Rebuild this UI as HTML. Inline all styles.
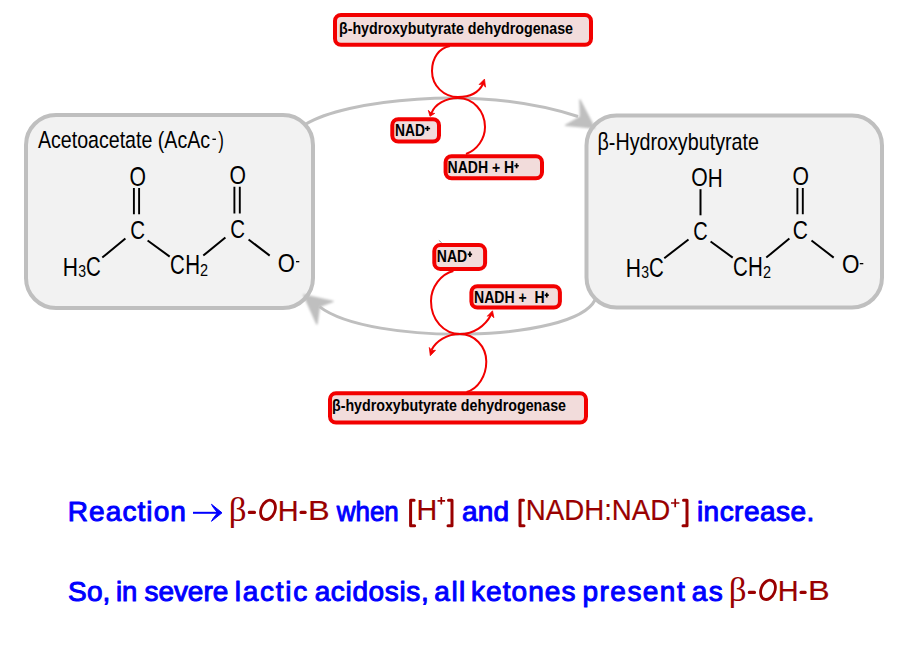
<!DOCTYPE html>
<html><head><meta charset="utf-8"><style>
html,body{margin:0;padding:0;background:#fff;width:908px;height:646px;overflow:hidden}
svg{display:block}
</style></head><body>
<svg width="908" height="646" viewBox="0 0 908 646">
<path d="M306,124 C342.8,100.9 475.2,83.3 578,116.5" fill="none" stroke="#bfbfbf" stroke-width="3"/>
<path d="M595,300 C573.5,342.7 370,345.8 319.4,306.6" fill="none" stroke="#bfbfbf" stroke-width="3"/>
<rect x="26" y="115" width="287" height="193" rx="30" fill="#f2f2f2" stroke="#bfbfbf" stroke-width="4"/>
<rect x="586.5" y="115.5" width="295.5" height="192" rx="30" fill="#f2f2f2" stroke="#bfbfbf" stroke-width="4"/>
<defs><filter id="bl" x="-20%" y="-20%" width="140%" height="140%"><feGaussianBlur stdDeviation="0.8"/></filter></defs>
<path d="M594.5,128 L580,100 L580.5,117 L565.6,125.3 Z" fill="#bfbfbf" stroke="#bfbfbf" stroke-width="1.5" stroke-linejoin="round" filter="url(#bl)"/>
<path d="M303.8,295 L333,301.4 L319.4,306.6 L316.9,324 Z" fill="#bfbfbf" stroke="#bfbfbf" stroke-width="1.5" stroke-linejoin="round" filter="url(#bl)"/>
<path d="M450,46 C439,48 432,58 432,71 C432,86 444,97 458,97 C470,97 479,92 483,84" fill="none" stroke="#f20000" stroke-width="2"/>
<path d="M484.5,79.1 L479.1,84.5 L483,84 L485.5,87.2 Z" fill="#f20000" stroke="#f20000" stroke-width="0.8" stroke-linejoin="round"/>
<path d="M466,154 C477,150 485,139 485,127 C485,111 473,98 458,98 C446,98 435,104 431.5,113" fill="none" stroke="#f20000" stroke-width="2"/>
<path d="M430,116.3 L428.3,110.3 L431.2,113 L434.7,113.4 Z" fill="#f20000" stroke="#f20000" stroke-width="0.8" stroke-linejoin="round"/>
<path d="M453.4,271 C441,274 431,287 431,301 C431,320 444,334 460,334 C474,334 485,326 491,315" fill="none" stroke="#f20000" stroke-width="2"/>
<path d="M492.5,310.8 L487.3,316.2 L491.3,315.3 L493.9,317.7 Z" fill="#f20000" stroke="#f20000" stroke-width="0.8" stroke-linejoin="round"/>
<path d="M466.6,392 C478,389 486.3,376 486.3,361.6 C486.3,346 474,334 460,334 C447,334 436,341 431.5,350" fill="none" stroke="#f20000" stroke-width="2"/>
<path d="M430.3,355.7 L429.3,347.5 L431.5,350.5 L435.5,350.3 Z" fill="#f20000" stroke="#f20000" stroke-width="0.8" stroke-linejoin="round"/>
<path d="M438.9,240.4 L441.6,242.7" stroke="#888" stroke-width="1"/>
<rect x="335" y="15" width="256" height="29.799999999999997" rx="6" fill="#f2dcdb" stroke="#f20000" stroke-width="4"/>
<rect x="392.3" y="119.2" width="46.69999999999999" height="22.39999999999999" rx="6" fill="#f2dcdb" stroke="#f20000" stroke-width="4"/>
<rect x="445.6" y="156.2" width="96.39999999999998" height="22.100000000000023" rx="6" fill="#f2dcdb" stroke="#f20000" stroke-width="4"/>
<rect x="434.3" y="245.1" width="50.80000000000001" height="23.799999999999983" rx="6" fill="#f2dcdb" stroke="#f20000" stroke-width="4"/>
<rect x="471.4" y="286.2" width="88.5" height="21.30000000000001" rx="6" fill="#f2dcdb" stroke="#f20000" stroke-width="4"/>
<rect x="330" y="393.3" width="256" height="29.19999999999999" rx="6" fill="#f2dcdb" stroke="#f20000" stroke-width="4"/>
<text x="339.00" y="33.60" font-family="&quot;Liberation Sans&quot;, sans-serif" font-size="16.00" font-weight="bold" fill="#000" textLength="234.04" lengthAdjust="spacingAndGlyphs">β-hydroxybutyrate dehydrogenase</text>
<text x="332.00" y="410.70" font-family="&quot;Liberation Sans&quot;, sans-serif" font-size="16.00" font-weight="bold" fill="#000" textLength="234.04" lengthAdjust="spacingAndGlyphs">β-hydroxybutyrate dehydrogenase</text>
<text x="395.00" y="135.80" font-family="&quot;Liberation Sans&quot;, sans-serif" font-size="16.81" font-weight="bold" fill="#000" textLength="29.87" lengthAdjust="spacingAndGlyphs">NAD</text>
<path d="M424.9,128.5 H430.1 M427.5,126.1 V130.9" fill="none" stroke="#000" stroke-width="1.7"/>
<text x="447.59" y="172.80" font-family="&quot;Liberation Sans&quot;, sans-serif" font-size="16.96" font-weight="bold" fill="#000" textLength="66.63" lengthAdjust="spacingAndGlyphs">NADH + H</text>
<path d="M514.4,165.75 H518.8000000000001 M516.6,163.25 V168.25" fill="none" stroke="#000" stroke-width="1.7"/>
<text x="436.79" y="262.00" font-family="&quot;Liberation Sans&quot;, sans-serif" font-size="17.39" font-weight="bold" fill="#000" textLength="30.39" lengthAdjust="spacingAndGlyphs">NAD</text>
<path d="M467.7,254.3 H472.09999999999997 M469.9,251.60000000000002 V257.0" fill="none" stroke="#000" stroke-width="1.7"/>
<text x="473.99" y="302.60" font-family="&quot;Liberation Sans&quot;, sans-serif" font-size="16.81" font-weight="bold" fill="#000" textLength="70.67" lengthAdjust="spacingAndGlyphs">NADH +  H</text>
<path d="M544.75,295.15 H548.75 M546.75,292.7 V297.59999999999997" fill="none" stroke="#000" stroke-width="1.7"/>
<text x="38.00" y="147.70" font-family="&quot;Liberation Sans&quot;, sans-serif" font-size="24.30" font-weight="normal" fill="#000" textLength="172.04" lengthAdjust="spacingAndGlyphs">Acetoacetate (AcAc</text>
<rect x="212.4" y="138.6" width="3.5" height="1.4" fill="#000"/>
<text x="218.23" y="147.80" font-family="&quot;Liberation Sans&quot;, sans-serif" font-size="23.32" font-weight="normal" fill="#000" textLength="5.64" lengthAdjust="spacingAndGlyphs">)</text>
<text x="597.52" y="149.80" font-family="&quot;Liberation Sans&quot;, sans-serif" font-size="23.20" font-weight="normal" fill="#000" textLength="161.45" lengthAdjust="spacingAndGlyphs">β-Hydroxybutyrate</text>
<text x="129.45" y="185.53" font-family="&quot;Liberation Sans&quot;, sans-serif" font-size="26.76" font-weight="normal" fill="#000" textLength="16.46" lengthAdjust="spacingAndGlyphs">O</text>
<path d="M133.9,188 V214.3 M139.1,188 V214.3" stroke="#000" stroke-width="1.9"/>
<text x="130.18" y="239.34" font-family="&quot;Liberation Sans&quot;, sans-serif" font-size="26.34" font-weight="normal" fill="#000" textLength="14.79" lengthAdjust="spacingAndGlyphs">C</text>
<path d="M125.4,238.5 L102.3,257.6 M147.6,240.5 L169.7,256.6" stroke="#000" stroke-width="2"/>
<text x="62.71" y="275.60" font-family="&quot;Liberation Sans&quot;, sans-serif" font-size="26.67" font-weight="normal" fill="#000" textLength="15.22" lengthAdjust="spacingAndGlyphs">H</text>
<text x="78.14" y="277.34" font-family="&quot;Liberation Sans&quot;, sans-serif" font-size="16.20" font-weight="normal" fill="#000" textLength="7.81" lengthAdjust="spacingAndGlyphs">3</text>
<text x="85.98" y="275.93" font-family="&quot;Liberation Sans&quot;, sans-serif" font-size="27.18" font-weight="normal" fill="#000" textLength="14.79" lengthAdjust="spacingAndGlyphs">C</text>
<text x="170.08" y="273.73" font-family="&quot;Liberation Sans&quot;, sans-serif" font-size="27.18" font-weight="normal" fill="#000" textLength="14.79" lengthAdjust="spacingAndGlyphs">C</text>
<text x="185.16" y="273.70" font-family="&quot;Liberation Sans&quot;, sans-serif" font-size="26.81" font-weight="normal" fill="#000" textLength="14.83" lengthAdjust="spacingAndGlyphs">H</text>
<text x="200.07" y="275.60" font-family="&quot;Liberation Sans&quot;, sans-serif" font-size="16.57" font-weight="normal" fill="#000" textLength="8.07" lengthAdjust="spacingAndGlyphs">2</text>
<text x="229.45" y="184.34" font-family="&quot;Liberation Sans&quot;, sans-serif" font-size="26.34" font-weight="normal" fill="#000" textLength="16.46" lengthAdjust="spacingAndGlyphs">O</text>
<path d="M234.4,186.7 V213.4 M239.8,186.7 V213.4" stroke="#000" stroke-width="1.9"/>
<text x="230.18" y="238.04" font-family="&quot;Liberation Sans&quot;, sans-serif" font-size="25.92" font-weight="normal" fill="#000" textLength="14.79" lengthAdjust="spacingAndGlyphs">C</text>
<path d="M225.4,237.5 L203.3,255.6 M248.6,239.5 L269.7,255.6" stroke="#000" stroke-width="2"/>
<text x="277.81" y="272.45" font-family="&quot;Liberation Sans&quot;, sans-serif" font-size="25.49" font-weight="normal" fill="#000" textLength="17.15" lengthAdjust="spacingAndGlyphs">O</text>
<rect x="296" y="261" width="3.3" height="1.3" fill="#000"/>
<text x="691.35" y="186.34" font-family="&quot;Liberation Sans&quot;, sans-serif" font-size="26.34" font-weight="normal" fill="#000" textLength="16.46" lengthAdjust="spacingAndGlyphs">O</text>
<text x="707.74" y="186.60" font-family="&quot;Liberation Sans&quot;, sans-serif" font-size="26.67" font-weight="normal" fill="#000" textLength="14.96" lengthAdjust="spacingAndGlyphs">H</text>
<path d="M700.5,189.2 V215.3" stroke="#000" stroke-width="2"/>
<text x="693.20" y="240.44" font-family="&quot;Liberation Sans&quot;, sans-serif" font-size="26.34" font-weight="normal" fill="#000" textLength="14.44" lengthAdjust="spacingAndGlyphs">C</text>
<path d="M688.5,239.5 L664.3,258.2 M710.6,241.5 L732.7,257.6" stroke="#000" stroke-width="2"/>
<text x="625.81" y="276.60" font-family="&quot;Liberation Sans&quot;, sans-serif" font-size="26.67" font-weight="normal" fill="#000" textLength="15.22" lengthAdjust="spacingAndGlyphs">H</text>
<text x="641.24" y="278.34" font-family="&quot;Liberation Sans&quot;, sans-serif" font-size="16.20" font-weight="normal" fill="#000" textLength="7.81" lengthAdjust="spacingAndGlyphs">3</text>
<text x="649.08" y="276.93" font-family="&quot;Liberation Sans&quot;, sans-serif" font-size="27.18" font-weight="normal" fill="#000" textLength="14.79" lengthAdjust="spacingAndGlyphs">C</text>
<text x="732.98" y="275.73" font-family="&quot;Liberation Sans&quot;, sans-serif" font-size="27.18" font-weight="normal" fill="#000" textLength="14.79" lengthAdjust="spacingAndGlyphs">C</text>
<text x="748.06" y="275.70" font-family="&quot;Liberation Sans&quot;, sans-serif" font-size="26.81" font-weight="normal" fill="#000" textLength="14.83" lengthAdjust="spacingAndGlyphs">H</text>
<text x="762.97" y="277.60" font-family="&quot;Liberation Sans&quot;, sans-serif" font-size="16.57" font-weight="normal" fill="#000" textLength="8.07" lengthAdjust="spacingAndGlyphs">2</text>
<text x="792.45" y="185.34" font-family="&quot;Liberation Sans&quot;, sans-serif" font-size="26.34" font-weight="normal" fill="#000" textLength="16.46" lengthAdjust="spacingAndGlyphs">O</text>
<path d="M797.4,188 V214.3 M802.8,188 V214.3" stroke="#000" stroke-width="1.9"/>
<text x="792.85" y="239.34" font-family="&quot;Liberation Sans&quot;, sans-serif" font-size="26.34" font-weight="normal" fill="#000" textLength="15.13" lengthAdjust="spacingAndGlyphs">C</text>
<path d="M789.4,238.5 L766.3,257.6 M811.5,240.5 L833.7,257.6" stroke="#000" stroke-width="2"/>
<text x="841.99" y="273.45" font-family="&quot;Liberation Sans&quot;, sans-serif" font-size="25.49" font-weight="normal" fill="#000" textLength="17.49" lengthAdjust="spacingAndGlyphs">O</text>
<rect x="859.8" y="263" width="3.5" height="1.3" fill="#000"/>
<text transform="matrix(1.0,0,0,1,67.76,520.50)" font-family="&quot;Liberation Sans&quot;, sans-serif" font-size="28.00" font-weight="normal" fill="#0000ff" textLength="118.11" lengthAdjust="spacing" stroke="#0000ff" stroke-width="1.00" stroke-linejoin="round">Reaction</text>
<path d="M193,512.8 H218" fill="none" stroke="#0000ff" stroke-width="2"/>
<path d="M222,512.8 L211.5,504.3 L213,507 L217.5,512.8 L213,518.6 L211.5,521.3 Z" fill="#0000ff" stroke="#0000ff" stroke-width="1" stroke-linejoin="round"/>
<text x="228.72" y="520.64" font-family="&quot;Liberation Serif&quot;, serif" font-size="32.83" font-weight="normal" fill="#990000" textLength="17.81" lengthAdjust="spacingAndGlyphs">β</text>
<rect x="247.75" y="510.8" width="8.25" height="3.1" rx="1.5" fill="#990000"/>
<ellipse cx="268" cy="509.85" rx="6.9" ry="10.0" transform="rotate(22 268 509.85)" fill="none" stroke="#990000" stroke-width="2.8"/>
<text x="277.79" y="520.60" font-family="&quot;Liberation Sans&quot;, sans-serif" font-size="30.00" font-weight="normal" fill="#990000" textLength="20.89" lengthAdjust="spacingAndGlyphs" stroke="#990000" stroke-width="0.2" stroke-linejoin="round">H</text>
<rect x="299.5" y="510.8" width="7.2" height="3.1" rx="1.5" fill="#990000"/>
<text x="307.90" y="520.20" font-family="&quot;Liberation Sans&quot;, sans-serif" font-size="28.41" font-weight="normal" fill="#990000" textLength="21.69" lengthAdjust="spacingAndGlyphs" stroke="#990000" stroke-width="0.2" stroke-linejoin="round">B</text>
<text x="336.80" y="520.50" font-family="&quot;Liberation Sans&quot;, sans-serif" font-size="28.00" font-weight="normal" fill="#0000ff" textLength="62.00" lengthAdjust="spacingAndGlyphs" stroke="#0000ff" stroke-width="1.0" stroke-linejoin="round">when</text>
<path d="M414.1,500.3 H410.6 V525.8 H414.6" fill="none" stroke="#990000" stroke-width="3" stroke-linecap="round" stroke-linejoin="round"/>
<text x="416.40" y="520.40" font-family="&quot;Liberation Sans&quot;, sans-serif" font-size="29.86" font-weight="normal" fill="#990000" textLength="20.76" lengthAdjust="spacingAndGlyphs" stroke="#990000" stroke-width="0.2" stroke-linejoin="round">H</text>
<path d="M437.5,500.8 H445.1 M441.3,497.0 V504.6" fill="none" stroke="#990000" stroke-width="1.7"/>
<path d="M448.5,500.3 H452 V525.8 H448" fill="none" stroke="#990000" stroke-width="3" stroke-linecap="round" stroke-linejoin="round"/>
<text transform="matrix(1.0,0,0,1,462.04,520.50)" font-family="&quot;Liberation Sans&quot;, sans-serif" font-size="28.00" font-weight="normal" fill="#0000ff" textLength="47.08" lengthAdjust="spacing" stroke="#0000ff" stroke-width="1.00" stroke-linejoin="round">and</text>
<path d="M523.5,500.3 H520 V525.8 H524" fill="none" stroke="#990000" stroke-width="3" stroke-linecap="round" stroke-linejoin="round"/>
<text x="525.79" y="520.20" font-family="&quot;Liberation Sans&quot;, sans-serif" font-size="29.28" font-weight="normal" fill="#990000" textLength="144.43" lengthAdjust="spacingAndGlyphs" stroke="#990000" stroke-width="0.2" stroke-linejoin="round">NADH:NAD</text>
<path d="M671.0,503 H679.4000000000001 M675.2,498.8 V507.2" fill="none" stroke="#990000" stroke-width="1.7"/>
<path d="M683.5,500.3 H687 V525.8 H683" fill="none" stroke="#990000" stroke-width="3" stroke-linecap="round" stroke-linejoin="round"/>
<text transform="matrix(1.0,0,0,1,696.88,520.50)" font-family="&quot;Liberation Sans&quot;, sans-serif" font-size="28.00" font-weight="normal" fill="#0000ff" textLength="117.42" lengthAdjust="spacing" stroke="#0000ff" stroke-width="1.00" stroke-linejoin="round">increase.</text>
<text transform="matrix(1.0,0,0,1,68.04,600.60)" font-family="&quot;Liberation Sans&quot;, sans-serif" font-size="28.00" font-weight="normal" fill="#0000ff" textLength="42.37" lengthAdjust="spacing" stroke="#0000ff" stroke-width="1.00" stroke-linejoin="round">So,</text>
<text x="116.02" y="600.60" font-family="&quot;Liberation Sans&quot;, sans-serif" font-size="28.00" font-weight="normal" fill="#0000ff" textLength="21.36" lengthAdjust="spacingAndGlyphs" stroke="#0000ff" stroke-width="1.0" stroke-linejoin="round">in</text>
<text x="144.46" y="600.60" font-family="&quot;Liberation Sans&quot;, sans-serif" font-size="28.00" font-weight="normal" fill="#0000ff" textLength="83.74" lengthAdjust="spacingAndGlyphs" stroke="#0000ff" stroke-width="1.0" stroke-linejoin="round">severe</text>
<text transform="matrix(1.0,0,0,1,234.68,600.60)" font-family="&quot;Liberation Sans&quot;, sans-serif" font-size="28.00" font-weight="normal" fill="#0000ff" textLength="72.57" lengthAdjust="spacing" stroke="#0000ff" stroke-width="1.00" stroke-linejoin="round">lactic</text>
<text transform="matrix(1.0,0,0,1,314.64,600.60)" font-family="&quot;Liberation Sans&quot;, sans-serif" font-size="28.00" font-weight="normal" fill="#0000ff" textLength="114.16" lengthAdjust="spacing" stroke="#0000ff" stroke-width="1.00" stroke-linejoin="round">acidosis,</text>
<text transform="matrix(1.0,0,0,1,434.34,600.60)" font-family="&quot;Liberation Sans&quot;, sans-serif" font-size="28.00" font-weight="normal" fill="#0000ff" textLength="31.00" lengthAdjust="spacing" stroke="#0000ff" stroke-width="1.00" stroke-linejoin="round">all</text>
<text transform="matrix(1.0,0,0,1,471.08,600.60)" font-family="&quot;Liberation Sans&quot;, sans-serif" font-size="28.00" font-weight="normal" fill="#0000ff" textLength="104.33" lengthAdjust="spacing" stroke="#0000ff" stroke-width="1.00" stroke-linejoin="round">ketones</text>
<text transform="matrix(1.0,0,0,1,582.58,600.60)" font-family="&quot;Liberation Sans&quot;, sans-serif" font-size="28.00" font-weight="normal" fill="#0000ff" textLength="102.08" lengthAdjust="spacing" stroke="#0000ff" stroke-width="1.00" stroke-linejoin="round">present</text>
<text transform="matrix(1.0,0,0,1,691.74,600.60)" font-family="&quot;Liberation Sans&quot;, sans-serif" font-size="28.00" font-weight="normal" fill="#0000ff" textLength="30.97" lengthAdjust="spacing" stroke="#0000ff" stroke-width="1.00" stroke-linejoin="round">as</text>
<text x="728.73" y="600.64" font-family="&quot;Liberation Serif&quot;, serif" font-size="32.83" font-weight="normal" fill="#990000" textLength="17.81" lengthAdjust="spacingAndGlyphs">β</text>
<rect x="747.75" y="590.8" width="8.25" height="3.1" rx="1.5" fill="#990000"/>
<ellipse cx="768" cy="589.85" rx="6.9" ry="10.0" transform="rotate(22 768 589.85)" fill="none" stroke="#990000" stroke-width="2.8"/>
<text x="777.79" y="600.60" font-family="&quot;Liberation Sans&quot;, sans-serif" font-size="30.00" font-weight="normal" fill="#990000" textLength="20.89" lengthAdjust="spacingAndGlyphs" stroke="#990000" stroke-width="0.2" stroke-linejoin="round">H</text>
<rect x="799.5" y="590.8" width="7.2" height="3.1" rx="1.5" fill="#990000"/>
<text x="807.90" y="600.20" font-family="&quot;Liberation Sans&quot;, sans-serif" font-size="28.41" font-weight="normal" fill="#990000" textLength="21.69" lengthAdjust="spacingAndGlyphs" stroke="#990000" stroke-width="0.2" stroke-linejoin="round">B</text>
</svg>
</body></html>
